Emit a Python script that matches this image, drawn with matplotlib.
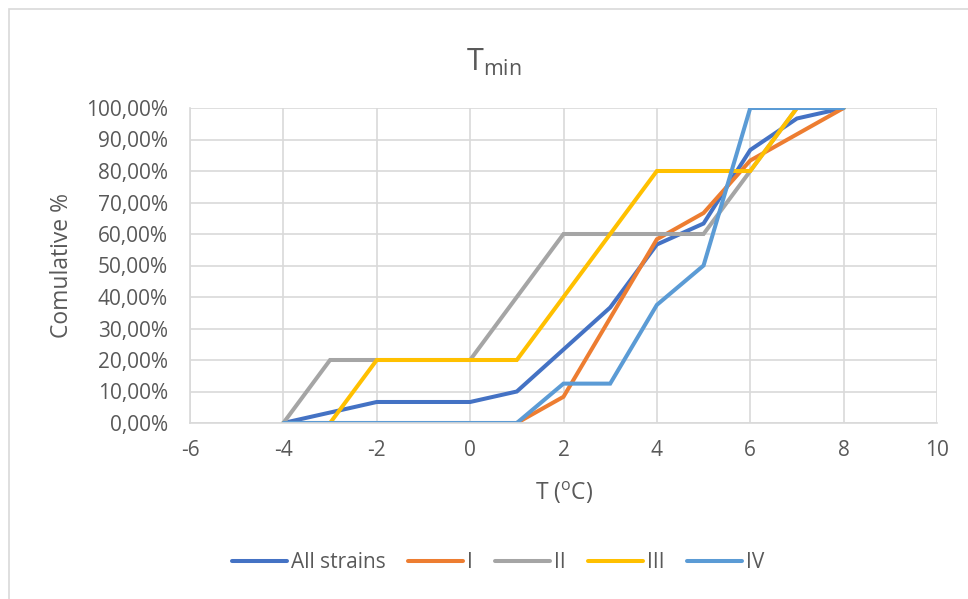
import matplotlib
matplotlib.use("Agg")
import matplotlib.pyplot as plt
from matplotlib.ticker import FuncFormatter
from matplotlib.patches import Rectangle

temps = [-4, -3, -2, -1, 0, 1, 2, 3, 4, 5, 6, 7, 8]
all_strains = [0, 3.33, 6.67, 6.67, 6.67, 10.0, 23.33, 36.67, 56.67, 63.33, 86.67, 96.67, 100]
s_I = [0, 0, 0, 0, 0, 0, 8.33, 33.33, 58.33, 66.67, 83.33, 91.67, 100]
s_II = [0, 20, 20, 20, 20, 40, 60, 60, 60, 60, 80, 100, 100]
s_III = [0, 0, 20, 20, 20, 20, 40, 60, 80, 80, 80, 100, 100]
s_IV = [0, 0, 0, 0, 0, 0, 12.5, 12.5, 37.5, 50, 100, 100, 100]
labels = ["All strains", "I", "II", "III", "IV"]
colors = ["#4472C4", "#ED7D31", "#A5A5A5", "#FFC000", "#5B9BD5"]

plt.rcParams['font.family'] = ['Open Sans', 'DejaVu Sans']
plt.rcParams['axes.unicode_minus'] = False
W, H = 968, 599
fig = plt.figure(figsize=(W / 100, H / 100), dpi=100)
fig.patches.append(Rectangle((9 / W, -0.1), 1.2, (H - 9) / H + 0.1, transform=fig.transFigure,
                             fill=False, edgecolor="#D9D9D9", linewidth=1.2))
ax = fig.add_axes([190 / W, 1 - 423 / H, (937 - 190) / W, (423 - 108) / H])

for ys, lab, c in zip([all_strains, s_I, s_II, s_III, s_IV], labels, colors):
    ax.plot(temps, ys, color=c, linewidth=2.9, label=lab, solid_capstyle='round', solid_joinstyle='miter')

ax.set_xlim(-6, 10)
ax.set_ylim(0, 100)
ax.set_xticks(range(-6, 11, 2))
ax.set_yticks(range(0, 101, 10))
ax.yaxis.set_major_formatter(FuncFormatter(lambda v, p: f"{v:.2f}".replace(".", ",") + "%"))
ax.grid(True, color="#D9D9D9", linewidth=1.2)
ax.set_axisbelow(True)
for s in ["top", "right"]:
    ax.spines[s].set_visible(False)
for s in ["left", "bottom"]:
    ax.spines[s].set_color("#D9D9D9")
    ax.spines[s].set_linewidth(1.2)
ax.tick_params(length=0, labelsize=15, colors="#595959")
ax.tick_params(axis='y', pad=16)
ax.tick_params(axis='x', pad=12)

gray = "#595959"
fig.text(564 / W, 1 - 493 / H, r"T ($^{\mathregular{o}}$C)", fontsize=16.5, color=gray,
         ha="center", va="center")
fig.text(62 / W, 1 - 265 / H, "Comulative %", fontsize=16.5, color=gray,
         ha="center", va="center", rotation=90)
fig.text(494 / W, 1 - 62 / H, r"T$_{\mathregular{min}}$", fontsize=22, color=gray,
         ha="center", va="center")

leg = fig.legend(*ax.get_legend_handles_labels(), loc="center",
                 bbox_to_anchor=(498 / W, 1 - 563 / H), ncol=5,
                 frameon=False, fontsize=15, handlelength=2.64, handletextpad=0.2,
                 columnspacing=1.06, bbox_transform=fig.transFigure)
for t in leg.get_texts():
    t.set_color(gray)

fig.savefig("out.png", dpi=100)
